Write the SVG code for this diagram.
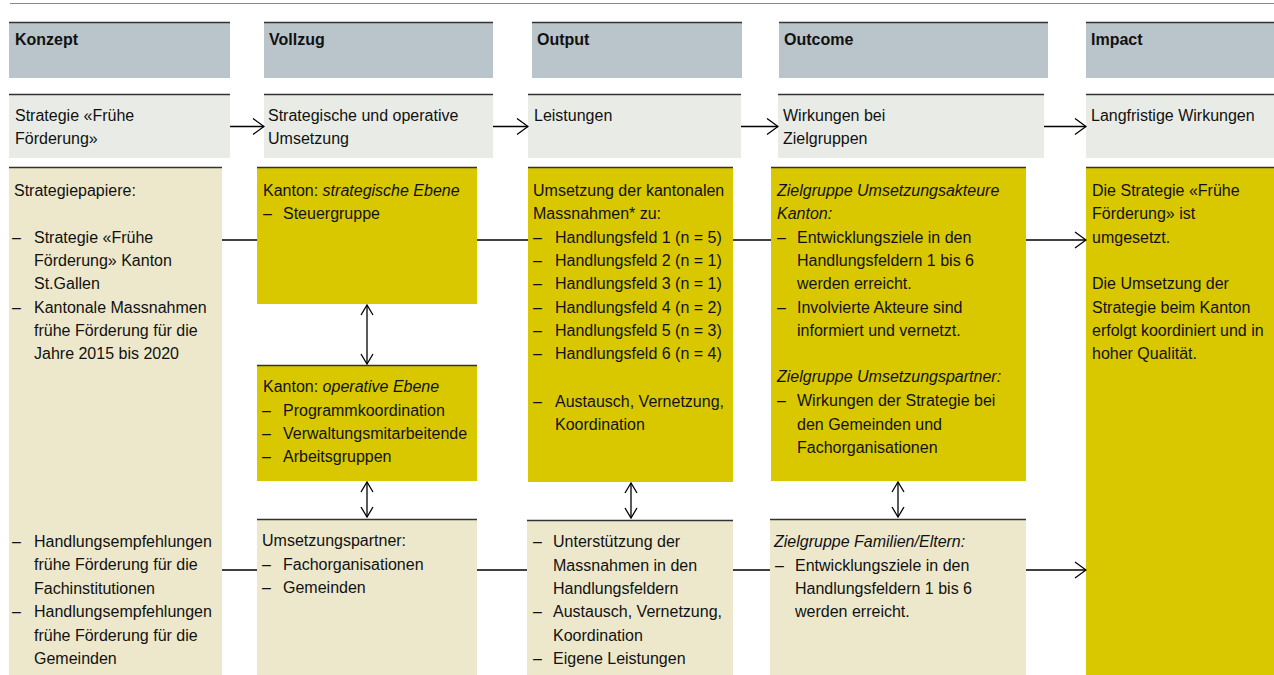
<svg xmlns="http://www.w3.org/2000/svg" width="1274" height="675" viewBox="0 0 1274 675">
<defs>
<style>
text{font-family:"Liberation Sans",Arial,sans-serif;font-size:16px;fill:#111}
.b{font-weight:bold}
.i{font-style:italic}
.hd{fill:#b9c5cb}
.r2{fill:#e9ece6}
.ye{fill:#d9c800}
.be{fill:#ede8cc}
.top{stroke:#333;stroke-width:1.5}
.c{stroke:#000;stroke-width:1.3;fill:none}
</style>
<marker id="ah" markerUnits="userSpaceOnUse" viewBox="0 0 13 18" refX="12" refY="9" markerWidth="13" markerHeight="18" orient="auto">
<path d="M1,1 L12,9 L1,17" fill="none" stroke="#000" stroke-width="1.3"/>
</marker>
<marker id="av" markerUnits="userSpaceOnUse" viewBox="0 0 12 14" refX="11" refY="7" markerWidth="12" markerHeight="14" orient="auto-start-reverse">
<path d="M1,1 L11,7 L1,13" fill="none" stroke="#000" stroke-width="1.3"/>
</marker>
</defs>
<rect width="1274" height="675" fill="#fff"/>
<line x1="10" y1="3.5" x2="1274" y2="3.5" stroke="#888" stroke-width="1.2"/>

<g id="h-konzept"><rect class="hd" x="9" y="22" width="221" height="56"/><line class="top" x1="9" y1="22.5" x2="230" y2="22.5"/><text class="b" x="15" y="45">Konzept</text></g>
<g id="h-vollzug"><rect class="hd" x="264" y="22" width="229" height="56"/><line class="top" x1="264" y1="22.5" x2="493" y2="22.5"/><text class="b" x="269" y="45">Vollzug</text></g>
<g id="h-output"><rect class="hd" x="532" y="22" width="210" height="56"/><line class="top" x1="532" y1="22.5" x2="742" y2="22.5"/><text class="b" x="537" y="45">Output</text></g>
<g id="h-outcome"><rect class="hd" x="779" y="22" width="269" height="56"/><line class="top" x1="779" y1="22.5" x2="1048" y2="22.5"/><text class="b" x="784" y="45">Outcome</text></g>
<g id="h-impact"><rect class="hd" x="1086" y="22" width="188" height="56"/><line class="top" x1="1086" y1="22.5" x2="1274" y2="22.5"/><text class="b" x="1091" y="45">Impact</text></g>

<g id="r2-konzept"><rect class="r2" x="9" y="94" width="221" height="64"/><line class="top" x1="9" y1="94.5" x2="230" y2="94.5"/><text x="15" y="121">Strategie «Frühe</text><text x="15" y="144">Förderung»</text></g>
<g id="r2-vollzug"><rect class="r2" x="264" y="94" width="229" height="64"/><line class="top" x1="264" y1="94.5" x2="493" y2="94.5"/><text x="268" y="121">Strategische und operative</text><text x="268" y="144">Umsetzung</text></g>
<g id="r2-output"><rect class="r2" x="528" y="94" width="213" height="64"/><line class="top" x1="528" y1="94.5" x2="741" y2="94.5"/><text x="534" y="121">Leistungen</text></g>
<g id="r2-outcome"><rect class="r2" x="778" y="94" width="266" height="64"/><line class="top" x1="778" y1="94.5" x2="1044" y2="94.5"/><text x="783" y="121">Wirkungen bei</text><text x="783" y="144">Zielgruppen</text></g>
<g id="r2-impact"><rect class="r2" x="1086" y="94" width="188" height="64"/><line class="top" x1="1086" y1="94.5" x2="1274" y2="94.5"/><text x="1091" y="121">Langfristige Wirkungen</text></g>

<g id="konzept"><rect class="be" x="9" y="167" width="213" height="508"/><line class="top" x1="9" y1="167.5" x2="222" y2="167.5"/>
<text x="14" y="196">Strategiepapiere:</text>
<text x="12" y="243">–</text><text x="34" y="243">Strategie «Frühe</text>
<text x="34" y="266">Förderung»  Kanton</text>
<text x="34" y="289">St.Gallen</text>
<text x="12" y="313">–</text><text x="34" y="313">Kantonale  Massnahmen</text>
<text x="34" y="336">frühe Förderung  für die</text>
<text x="34" y="359">Jahre 2015 bis 2020</text>
<text x="12" y="547">–</text><text x="34" y="547">Handlungsempfehlungen</text>
<text x="34" y="570">frühe Förderung  für die</text>
<text x="34" y="594">Fachinstitutionen</text>
<text x="12" y="617">–</text><text x="34" y="617">Handlungsempfehlungen</text>
<text x="34" y="641">frühe Förderung  für die</text>
<text x="34" y="664">Gemeinden</text>
</g>

<g id="kanton-strategisch"><rect class="ye" x="257" y="167" width="220" height="137"/><line class="top" x1="257" y1="167.5" x2="477" y2="167.5"/>
<text x="263" y="196">Kanton: <tspan class="i">strategische Ebene</tspan></text>
<text x="263" y="219">–</text><text x="283" y="219">Steuergruppe</text>
</g>
<g id="kanton-operativ"><rect class="ye" x="257" y="365" width="220" height="116"/><line class="top" x1="257" y1="365.5" x2="477" y2="365.5"/>
<text x="263" y="392">Kanton: <tspan class="i">operative Ebene</tspan></text>
<text x="262" y="415.5">–</text><text x="283" y="415.5">Programmkoordination</text>
<text x="262" y="439">–</text><text x="283" y="439">Verwaltungsmitarbeitende</text>
<text x="262" y="462">–</text><text x="283" y="462">Arbeitsgruppen</text>
</g>
<g id="umsetzungspartner"><rect class="be" x="257" y="519" width="220" height="156"/><line class="top" x1="257" y1="519.5" x2="477" y2="519.5"/>
<text x="262" y="546">Umsetzungspartner:</text>
<text x="262" y="569.5">–</text><text x="283" y="569.5">Fachorganisationen</text>
<text x="262" y="593">–</text><text x="283" y="593">Gemeinden</text>
</g>

<g id="output-kanton"><rect class="ye" x="528" y="167" width="205" height="315"/><line class="top" x1="528" y1="167.5" x2="733" y2="167.5"/>
<text x="533" y="196">Umsetzung der kantonalen</text>
<text x="533" y="219">Massnahmen*  zu:</text>
<text x="533" y="243">–</text><text x="555" y="243">Handlungsfeld  1 (n = 5)</text>
<text x="533" y="266">–</text><text x="555" y="266">Handlungsfeld  2 (n = 1)</text>
<text x="533" y="289">–</text><text x="555" y="289">Handlungsfeld  3 (n = 1)</text>
<text x="533" y="313">–</text><text x="555" y="313">Handlungsfeld  4 (n = 2)</text>
<text x="533" y="336">–</text><text x="555" y="336">Handlungsfeld  5 (n = 3)</text>
<text x="533" y="359">–</text><text x="555" y="359">Handlungsfeld  6 (n = 4)</text>
<text x="533" y="406.5">–</text><text x="555" y="406.5">Austausch,  Vernetzung,</text>
<text x="555" y="430">Koordination</text>
</g>
<g id="output-partner"><rect class="be" x="527" y="520" width="206" height="155"/><line class="top" x1="527" y1="520.5" x2="733" y2="520.5"/>
<text x="533" y="547">–</text><text x="553" y="547">Unterstützung  der</text>
<text x="553" y="570.5">Massnahmen  in den</text>
<text x="553" y="594">Handlungsfeldern</text>
<text x="533" y="617">–</text><text x="553" y="617">Austausch,  Vernetzung,</text>
<text x="553" y="641">Koordination</text>
<text x="533" y="664">–</text><text x="553" y="664">Eigene Leistungen</text>
</g>

<g id="outcome-kanton"><rect class="ye" x="771" y="167" width="255" height="314"/><line class="top" x1="771" y1="167.5" x2="1026" y2="167.5"/>
<text class="i" x="777" y="196">Zielgruppe  Umsetzungsakteure</text>
<text class="i" x="777" y="219">Kanton:</text>
<text x="777" y="243">–</text><text x="797" y="243">Entwicklungsziele  in den</text>
<text x="797" y="266">Handlungsfeldern  1 bis 6</text>
<text x="797" y="289">werden erreicht.</text>
<text x="777" y="313">–</text><text x="797" y="313">Involvierte Akteure sind</text>
<text x="797" y="336">informiert und vernetzt.</text>
<text class="i" x="777" y="382">Zielgruppe  Umsetzungspartner:</text>
<text x="777" y="406">–</text><text x="797" y="406">Wirkungen  der Strategie bei</text>
<text x="797" y="429.5">den Gemeinden  und</text>
<text x="797" y="453">Fachorganisationen</text>
</g>
<g id="outcome-familien"><rect class="be" x="770" y="519" width="256" height="156"/><line class="top" x1="770" y1="519.5" x2="1026" y2="519.5"/>
<text class="i" x="774" y="547">Zielgruppe  Familien/Eltern:</text>
<text x="775" y="570.5">–</text><text x="795" y="570.5">Entwicklungsziele  in den</text>
<text x="795" y="594">Handlungsfeldern  1 bis 6</text>
<text x="795" y="617">werden  erreicht.</text>
</g>

<g id="impact"><rect class="ye" x="1086" y="167" width="188" height="508"/><line class="top" x1="1086" y1="167.5" x2="1274" y2="167.5"/>
<text x="1092" y="196">Die Strategie «Frühe</text>
<text x="1092" y="219">Förderung»  ist</text>
<text x="1092" y="243">umgesetzt.</text>
<text x="1092" y="289">Die Umsetzung  der</text>
<text x="1092" y="313">Strategie beim Kanton</text>
<text x="1092" y="336">erfolgt koordiniert und in</text>
<text x="1092" y="359">hoher Qualität.</text>
</g>

<g id="connectors">
<line class="c" x1="230" y1="126.5" x2="264" y2="126.5" marker-end="url(#ah)"/>
<line class="c" x1="493" y1="126.5" x2="528" y2="126.5" marker-end="url(#ah)"/>
<line class="c" x1="741" y1="126.5" x2="778" y2="126.5" marker-end="url(#ah)"/>
<line class="c" x1="1044" y1="126.5" x2="1086" y2="126.5" marker-end="url(#ah)"/>
<line class="c" x1="222" y1="240" x2="257" y2="240"/>
<line class="c" x1="477" y1="240" x2="528" y2="240"/>
<line class="c" x1="733" y1="240" x2="771" y2="240"/>
<line class="c" x1="1026" y1="240" x2="1086" y2="240" marker-end="url(#ah)"/>
<line class="c" x1="222" y1="570" x2="257" y2="570"/>
<line class="c" x1="477" y1="570" x2="527" y2="570"/>
<line class="c" x1="733" y1="570" x2="770" y2="570"/>
<line class="c" x1="1026" y1="570" x2="1086" y2="570" marker-end="url(#ah)"/>
<line class="c" x1="367" y1="305" x2="367" y2="364" marker-start="url(#av)" marker-end="url(#av)"/>
<line class="c" x1="367" y1="482" x2="367" y2="517" marker-start="url(#av)" marker-end="url(#av)"/>
<line class="c" x1="631" y1="483" x2="631" y2="518" marker-start="url(#av)" marker-end="url(#av)"/>
<line class="c" x1="898" y1="482" x2="898" y2="517" marker-start="url(#av)" marker-end="url(#av)"/>
</g>
</svg>
